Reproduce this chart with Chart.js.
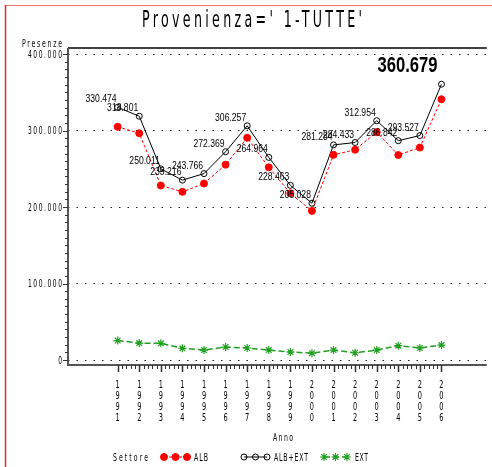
<!DOCTYPE html>
<html>
<head>
<meta charset="utf-8">
<script src="https://cdn.jsdelivr.net/npm/chart.js@4/dist/chart.umd.min.js"></script>
<style>
  html, body { margin: 0; padding: 0; background: #fff; }
  #wrap { width: 492px; height: 467px; }
</style>
</head>
<body>
<div id="wrap"><canvas id="chart" width="492" height="467"></canvas></div>
<script>
const years = [1991, 1992, 1993, 1994, 1995, 1996, 1997, 1998, 1999, 2000, 2001, 2002, 2003, 2004, 2005, 2006];
const albExt = [330474, 318801, 250011, 235216, 243766, 272369, 306257, 264964, 228463, 205028, 281284, 284433, 312954, 286842, 293527, 360679];
const alb = [305000, 296500, 228200, 219900, 230800, 255400, 290600, 252000, 218000, 195000, 268300, 275000, 298000, 268000, 277800, 341000];
const ext = [25400, 22200, 21800, 15300, 13000, 17000, 15700, 13000, 10500, 9000, 13000, 9500, 13000, 18800, 15700, 19600];
const yTicks = [0, 100000, 200000, 300000, 400000];

const SAS_FONT = "'DejaVu Sans', sans-serif";
const LBL_FONT = "'Liberation Sans', Arial, sans-serif";
const RED = "#ff0000";
const GREEN = "#22a022";

function fmt(v) {
  return String(Math.round(v)).replace(/\B(?=(\d{3})+(?!\d))/g, ".");
}

function toPoints(arr) {
  return arr.map((v, i) => ({ x: years[i], y: v }));
}

// thin, tall "simulated" lettering: squeeze glyphs, spread them to a width
function sasText(ctx, text, x, y, size, sx, targetW, align) {
  ctx.save();
  ctx.font = size + "px " + SAS_FONT;
  const w = ctx.measureText(text).width * sx;
  const W = targetW || w;
  const sp = text.length > 1 ? (W - w) / (text.length - 1) : 0;
  let left = 0;
  if (align === "center") left = -W / 2;
  else if (align === "right") left = -W;
  ctx.translate(x + left, y);
  ctx.scale(sx, 1);
  ctx.letterSpacing = sp / sx + "px";
  ctx.textAlign = "left";
  ctx.fillText(text, 0, 0);
  ctx.restore();
}

function squeezedText(ctx, text, x, y, font, sx, align) {
  ctx.save();
  ctx.font = font;
  const w = ctx.measureText(text).width * sx;
  let left = 0;
  if (align === "center") left = -w / 2;
  else if (align === "right") left = -w;
  ctx.translate(x + left, y);
  ctx.scale(sx, 1);
  ctx.textAlign = "left";
  ctx.fillText(text, 0, 0);
  ctx.restore();
}

const extras = {
  id: "extras",
  beforeDatasetsDraw(chart) {
    const ctx = chart.ctx;
    const a = chart.chartArea;
    const xs = chart.scales.x;
    const ys = chart.scales.y;
    ctx.save();
    ctx.strokeStyle = "#000";
    ctx.lineWidth = 1.5;
    ctx.beginPath();
    ctx.moveTo(a.left, a.top);
    ctx.lineTo(a.right, a.top);
    ctx.stroke();
    ctx.strokeStyle = "#555";
    ctx.lineWidth = 2;
    ctx.beginPath();
    ctx.moveTo(a.left, a.top);
    ctx.lineTo(a.left, a.bottom);
    ctx.lineTo(a.right, a.bottom);
    ctx.stroke();
    ctx.lineWidth = 1;
    ctx.strokeStyle = "#333";
    for (let v = 0; v <= 400000; v += 10000) {
      const py = Math.round(ys.getPixelForValue(v)) + 0.5;
      const len = v % 100000 === 0 ? 5 : 3;
      ctx.beginPath();
      ctx.moveTo(a.left - len, py);
      ctx.lineTo(a.left, py);
      ctx.stroke();
    }
    for (let k = 0; k <= (years.length - 1) * 5; k++) {
      const v = years[0] + k / 5;
      const px = Math.round(xs.getPixelForValue(v)) + 0.5;
      const major = k % 5 === 0;
      ctx.lineWidth = major ? 1.5 : 1;
      ctx.beginPath();
      ctx.moveTo(px, a.bottom);
      ctx.lineTo(px, a.bottom + (major ? 7 : 4));
      ctx.stroke();
    }
    ctx.restore();
  },
  afterDatasetsDraw(chart) {
    const ctx = chart.ctx;
    const meta = chart.getDatasetMeta(1);
    ctx.save();
    ctx.fillStyle = "#000";
    ctx.textBaseline = "alphabetic";
    meta.data.forEach((pt, i) => {
      if (i === meta.data.length - 1) {
        squeezedText(ctx, fmt(albExt[i]), pt.x - 34, pt.y - 12, "bold 22px " + LBL_FONT, 0.755, "center");
      } else {
        squeezedText(ctx, fmt(albExt[i]), pt.x - 1, pt.y - 5, "10.5px " + LBL_FONT, 0.82, "right");
      }
    });
    ctx.restore();
  },
  afterDraw(chart) {
    const ctx = chart.ctx;
    const xs = chart.scales.x;
    const ys = chart.scales.y;
    ctx.save();
    // outer frame
    ctx.strokeStyle = "#f07070";
    ctx.lineWidth = 1;
    ctx.beginPath();
    ctx.moveTo(5, 5.5);
    ctx.lineTo(492, 5.5);
    ctx.stroke();
    ctx.strokeStyle = "#e82828";
    ctx.lineWidth = 1.5;
    ctx.beginPath();
    ctx.moveTo(5.5, 5);
    ctx.lineTo(5.5, 467);
    ctx.stroke();

    ctx.fillStyle = "#000";
    ctx.textBaseline = "alphabetic";
    sasText(ctx, "Provenienza=' 1-TUTTE'", 252, 27, 23, 0.55, 220, "center");
    sasText(ctx, "Presenze", 62, 47, 10, 0.62, 40, "right");
    sasText(ctx, "Anno", 283, 441, 10, 0.62, 20, "center");

    // tick labels placed with the library's scales
    yTicks.forEach((v) => {
      const py = ys.getPixelForValue(v);
      const t = fmt(v);
      sasText(ctx, t, 62, py + 3.7, 10, 0.6, t.length > 1 ? 34 : 0, "right");
    });
    years.forEach((yr) => {
      const px = xs.getPixelForValue(yr);
      String(yr).split("").forEach((ch, j) => {
        sasText(ctx, ch, px, 388 + j * 11, 11, 0.6, 0, "center");
      });
    });

    // legend
    const ly = 457;
    sasText(ctx, "Settore", 113, ly + 4, 10, 0.62, 35, "left");
    const items = [
      { x0: 164, x1: 187, text: "ALB", tx: 194, tw: 14, ds: 0 },
      { x0: 244, x1: 267, text: "ALB+EXT", tx: 274, tw: 34, ds: 1 },
      { x0: 324, x1: 347, text: "EXT", tx: 355, tw: 13, ds: 2 }
    ];
    items.forEach((it) => {
      const ds = chart.data.datasets[it.ds];
      ctx.save();
      ctx.strokeStyle = ds.borderColor;
      ctx.lineWidth = ds.borderWidth;
      ctx.setLineDash(ds.borderDash || []);
      ctx.beginPath();
      ctx.moveTo(it.x0, ly);
      ctx.lineTo(it.x1, ly);
      ctx.stroke();
      ctx.setLineDash([]);
      ctx.fillStyle = ds.pointBackgroundColor;
      ctx.strokeStyle = ds.pointBorderColor;
      ctx.lineWidth = ds.pointBorderWidth;
      [it.x0, (it.x0 + it.x1) / 2, it.x1].forEach((px) => {
        Chart.helpers.drawPoint(ctx, {
          pointStyle: ds.pointStyle,
          radius: ds.pointRadius,
          rotation: 0,
          borderWidth: ds.pointBorderWidth
        }, px, ly);
      });
      ctx.restore();
      sasText(ctx, it.text, it.tx, ly + 4, 10, 0.62, it.tw, "left");
    });
    ctx.restore();
  }
};

new Chart(document.getElementById("chart"), {
  type: "line",
  data: {
    datasets: [
      {
        label: "ALB",
        data: toPoints(alb),
        borderColor: RED,
        borderWidth: 1,
        borderDash: [3, 2],
        pointStyle: "circle",
        pointRadius: 3.5,
        pointBackgroundColor: RED,
        pointBorderColor: RED,
        pointBorderWidth: 1,
        tension: 0
      },
      {
        label: "ALB+EXT",
        data: toPoints(albExt),
        borderColor: "#000",
        borderWidth: 1,
        pointStyle: "circle",
        pointRadius: 3,
        pointBackgroundColor: "rgba(0,0,0,0)",
        pointBorderColor: "#000",
        pointBorderWidth: 1,
        tension: 0
      },
      {
        label: "EXT",
        data: toPoints(ext),
        borderColor: GREEN,
        borderWidth: 1.5,
        borderDash: [6, 3],
        pointStyle: "star",
        pointRadius: 4,
        pointBackgroundColor: GREEN,
        pointBorderColor: GREEN,
        pointBorderWidth: 1.2,
        tension: 0
      }
    ]
  },
  options: {
    responsive: false,
    animation: false,
    devicePixelRatio: 1,
    layout: { padding: { top: 48, left: 0, right: 0, bottom: 0 } },
    plugins: {
      legend: { display: false },
      title: { display: false },
      tooltip: { enabled: false }
    },
    scales: {
      x: {
        type: "linear",
        min: 1988.7,
        max: 2008.1,
        afterBuildTicks: (scale) => {
          scale.ticks = years.map((v) => ({ value: v }));
        },
        afterFit: (scale) => {
          scale.height = 102;
        },
        grid: { display: false, drawTicks: false },
        border: { display: false },
        ticks: { display: false }
      },
      y: {
        type: "linear",
        min: -6500,
        max: 408000,
        afterBuildTicks: (scale) => {
          scale.ticks = yTicks.map((v) => ({ value: v }));
        },
        afterFit: (scale) => {
          scale.width = 68;
        },
        grid: { color: "#222", lineWidth: 1, drawTicks: false },
        border: { display: false, dash: [1.5, 7] },
        ticks: { display: false }
      }
    }
  },
  plugins: [extras]
});
</script>
</body>
</html>
